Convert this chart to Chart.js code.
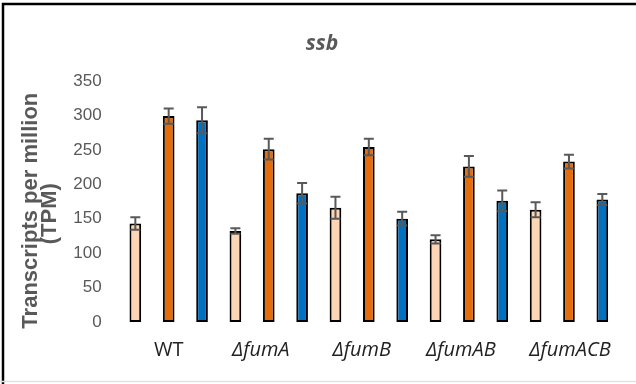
<!DOCTYPE html>
<html>
<head>
<meta charset="utf-8">
<script src="https://cdn.jsdelivr.net/npm/chart.js"></script>
<style>
  html, body { margin: 0; padding: 0; background: #fff; }
  #wrap { width: 636px; height: 384px; }
</style>
</head>
<body>
<div id="wrap"><canvas id="myChart" width="636" height="384"></canvas></div>
<script>
// Data
const categories = ['WT', 'ΔfumA', 'ΔfumB', 'ΔfumAB', 'ΔfumACB'];
const lightValues = [143, 132, 166, 120, 163];
const lightErrors = [9, 4, 16, 6, 11];
const orangeValues = [299, 251, 254, 226, 233];
const orangeErrors = [11, 15, 12, 15, 10];
const blueValues = [293, 187, 150, 176, 178];
const blueErrors = [19, 15, 10, 15, 8];
const yTicks = [0, 50, 100, 150, 200, 250, 300, 350];

// Small horizontal nudges for the category labels (px)
const labelNudge = [0, -8, -7, -8, 1];

const gray = '#595959';

// White background plus the partial frame around the picture
const framePlugin = {
    id: 'frame',
    beforeDraw(chart) {
        const ctx = chart.ctx;
        ctx.save();
        ctx.fillStyle = '#fff';
        ctx.fillRect(0, 0, chart.width, chart.height);
        ctx.strokeStyle = '#000';
        ctx.lineWidth = 2.5;
        ctx.beginPath();
        ctx.moveTo(3, chart.height);
        ctx.lineTo(3, 4);
        ctx.lineTo(chart.width, 4);
        ctx.stroke();
        ctx.strokeStyle = '#e2e2e2';
        ctx.lineWidth = 1.5;
        ctx.beginPath();
        ctx.moveTo(0, 381.5);
        ctx.lineTo(chart.width, 381.5);
        ctx.stroke();
        ctx.restore();
    }
};

// Error bars on top of every bar
const errorBarPlugin = {
    id: 'errorBars',
    afterDatasetsDraw(chart) {
        const ctx = chart.ctx;
        const y = chart.scales.y;
        ctx.save();
        ctx.strokeStyle = gray;
        ctx.lineWidth = 2;
        chart.data.datasets.forEach((ds, i) => {
            const meta = chart.getDatasetMeta(i);
            meta.data.forEach((bar, j) => {
                const v = ds.data[j];
                const e = ds.errors[j];
                const top = y.getPixelForValue(v + e);
                const bottom = y.getPixelForValue(v - e);
                ctx.beginPath();
                ctx.moveTo(bar.x, top);
                ctx.lineTo(bar.x, bottom);
                ctx.moveTo(bar.x - 5, top);
                ctx.lineTo(bar.x + 5, top);
                ctx.moveTo(bar.x - 5, bottom);
                ctx.lineTo(bar.x + 5, bottom);
                ctx.stroke();
            });
        });
        ctx.restore();
    }
};

// Category labels (italic gene names) and the chart title
const labelsPlugin = {
    id: 'labels',
    afterDraw(chart) {
        const ctx = chart.ctx;
        const x = chart.scales.x;
        ctx.save();
        ctx.fillStyle = '#222';
        ctx.textAlign = 'center';
        ctx.textBaseline = 'alphabetic';
        categories.forEach((c, i) => {
            ctx.font = (i === 0 ? '' : 'italic ') + '20px "Open Sans"';
            ctx.fillText(c, x.getPixelForValue(i) + labelNudge[i], 356);
        });
        ctx.fillStyle = gray;
        ctx.font = 'italic bold 21px "Open Sans"';
        ctx.fillText('ssb', 322, 50);
        ctx.restore();
    }
};

const ctx = document.getElementById('myChart').getContext('2d');
const myChart = new Chart(ctx, {
    type: 'bar',
    data: {
        labels: categories,
        datasets: [
            { label: 'Series 1', data: lightValues, errors: lightErrors, backgroundColor: '#FCD5B5' },
            { label: 'Series 2', data: orangeValues, errors: orangeErrors, backgroundColor: '#E46C0A' },
            { label: 'Series 3', data: blueValues, errors: blueErrors, backgroundColor: '#0070C0' }
        ]
    },
    options: {
        responsive: false,
        animation: false,
        events: [],
        layout: { padding: { left: 16, right: 17, top: 81, bottom: 62 } },
        datasets: {
            bar: {
                borderColor: '#000',
                borderWidth: 2,
                borderSkipped: false,
                barPercentage: 0.35,
                categoryPercentage: 1
            }
        },
        plugins: {
            legend: { display: false },
            title: { display: false },
            tooltip: { enabled: false }
        },
        scales: {
            x: {
                grid: { display: false, drawTicks: false },
                border: { display: false },
                ticks: { display: false }
            },
            y: {
                min: 0,
                max: 350,
                afterBuildTicks: (scale) => { scale.ticks = yTicks.map(v => ({ value: v })); },
                grid: { display: false, drawTicks: false },
                border: { display: false },
                ticks: {
                    padding: 17,
                    color: gray,
                    font: { family: '"Liberation Sans", Arial', size: 17 }
                },
                title: {
                    display: true,
                    // trailing spaces pull the rotated text a little lower, as in the original
                    text: ['Transcripts per million   ', '(TPM)    '],
                    color: gray,
                    padding: { top: 5, bottom: -3 },
                    font: { family: '"Liberation Sans", Arial', size: 22, weight: 'bold', lineHeight: 0.87 }
                }
            }
        }
    },
    plugins: [framePlugin, errorBarPlugin, labelsPlugin]
});
</script>
</body>
</html>
